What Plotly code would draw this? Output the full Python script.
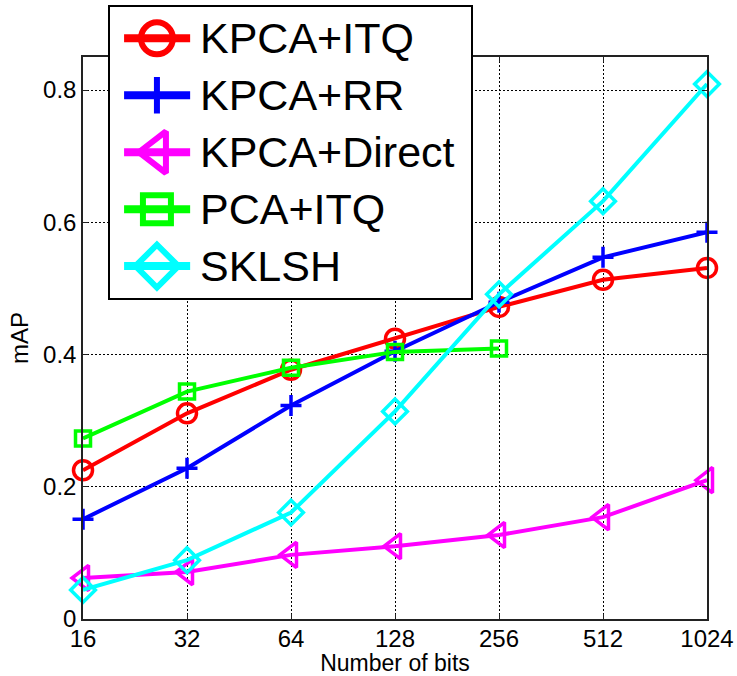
import plotly.graph_objects as go

# Code length (bits) on the x axis
bits = [16, 32, 64, 128, 256, 512, 1024]
bit_labels = ["16", "32", "64", "128", "256", "512", "1024"]

# mAP for each method
map_kpca_itq = [0.225, 0.311, 0.377, 0.424, 0.472, 0.513, 0.531]
map_kpca_rr = [0.151, 0.228, 0.323, 0.405, 0.479, 0.547, 0.585]
map_kpca_direct = [0.062, 0.071, 0.097, 0.110, 0.127, 0.154, 0.210]
pca_itq_bits = [16, 32, 64, 128, 256]
map_pca_itq = [0.273, 0.344, 0.380, 0.404, 0.409]
map_sklsh = [0.044, 0.089, 0.161, 0.314, 0.491, 0.632, 0.809]

map_ticks = [0, 0.2, 0.4, 0.6, 0.8]
map_tick_labels = ["0", "0.2", "0.4", "0.6", "0.8"]

method_names = ["KPCA+ITQ", "KPCA+RR", "KPCA+Direct", "PCA+ITQ", "SKLSH"]

W, H = 737, 676
FONT = "Liberation Sans, Arial, Helvetica, sans-serif"

# per-method style: colour, symbol, marker size in plot and in the key
styles = [
    dict(color="#ff0000", symbol="circle-open", size=19, key_size=32),
    dict(color="#0000ff", symbol="cross-thin-open", size=15, key_size=26),
    dict(color="#ff00ff", symbol="triangle-left-open", size=22, key_size=36),
    dict(color="#00ff00", symbol="square-open", size=15, key_size=28),
    dict(color="#00ffff", symbol="diamond-open", size=19, key_size=33),
]
series = [
    (bits, map_kpca_itq),
    (bits, map_kpca_rr),
    (bits, map_kpca_direct),
    (pca_itq_bits, map_pca_itq),
    (bits, map_sklsh),
]

fig = go.Figure()

for (xs, ys), st, name in zip(series, styles, method_names):
    fig.add_trace(go.Scatter(
        x=xs, y=ys, name=name, mode="lines+markers",
        line=dict(color=st["color"], width=4),
        marker=dict(symbol=st["symbol"], size=st["size"], color=st["color"],
                    line=dict(color=st["color"], width=3.5)),
        xaxis="x", yaxis="y", showlegend=False, cliponaxis=False,
    ))

# Boxed key drawn on its own small subplot that sits over the top-left of the axes
key_x0, key_x1, key_mid, key_text = 0.039, 0.222, 0.130, 0.244
for i, (st, name) in enumerate(zip(styles, method_names)):
    fig.add_trace(go.Scatter(
        x=[key_x0, key_x1], y=[i, i], mode="lines",
        line=dict(color=st["color"], width=8),
        xaxis="x2", yaxis="y2", showlegend=False, hoverinfo="skip",
    ))
    fig.add_trace(go.Scatter(
        x=[key_mid], y=[i], mode="markers",
        marker=dict(symbol=st["symbol"], size=st["key_size"], color=st["color"],
                    line=dict(color=st["color"], width=6)),
        xaxis="x2", yaxis="y2", showlegend=False, hoverinfo="skip",
    ))
    fig.add_annotation(
        x=key_text, y=i, xref="x2", yref="y2", text=name, showarrow=False,
        xanchor="left", yanchor="middle",
        font=dict(family=FONT, size=43, color="#000000"),
    )

axis_common = dict(
    showline=True, linecolor="#222222", linewidth=1.5, mirror="ticks",
    ticks="inside", ticklen=5, tickcolor="#222222", tickwidth=1,
    showgrid=True, gridcolor="#000000", gridwidth=1, griddash="2px,2px",
    zeroline=False, automargin=False,
    tickfont=dict(family=FONT, size=24, color="#000000"),
)

fig.update_layout(
    width=W, height=H,
    margin=dict(l=0, r=0, t=0, b=0),
    paper_bgcolor="white", plot_bgcolor="white",
    showlegend=False,
    xaxis=dict(
        type="log", range=[1.2041, 3.0103],
        tickvals=bits, ticktext=bit_labels,
        domain=[83 / W, 707 / W],
        ticklabelstandoff=-3,
        title=dict(text="Number of bits", standoff=8,
                   font=dict(family=FONT, size=23, color="#000000")),
        **axis_common,
    ),
    yaxis=dict(
        range=[0, 0.85],
        tickvals=map_ticks, ticktext=map_tick_labels,
        domain=[1 - 619 / H, 1 - 57 / H],
        title=dict(text="mAP", standoff=8,
                   font=dict(family=FONT, size=24, color="#000000")),
        **axis_common,
    ),
    xaxis2=dict(
        domain=[110 / W, 471 / W], range=[0, 1], anchor="y2",
        showline=True, linecolor="#000000", linewidth=1.5, mirror=True,
        showgrid=False, zeroline=False, showticklabels=False, ticks="",
        fixedrange=True,
    ),
    yaxis2=dict(
        domain=[1 - 298 / H, 1 - 7 / H], range=[4.56, -0.55], anchor="x2",
        showline=True, linecolor="#000000", linewidth=1.5, mirror=True,
        showgrid=False, zeroline=False, showticklabels=False, ticks="",
        fixedrange=True,
    ),
)

fig.write_html("out.html")
